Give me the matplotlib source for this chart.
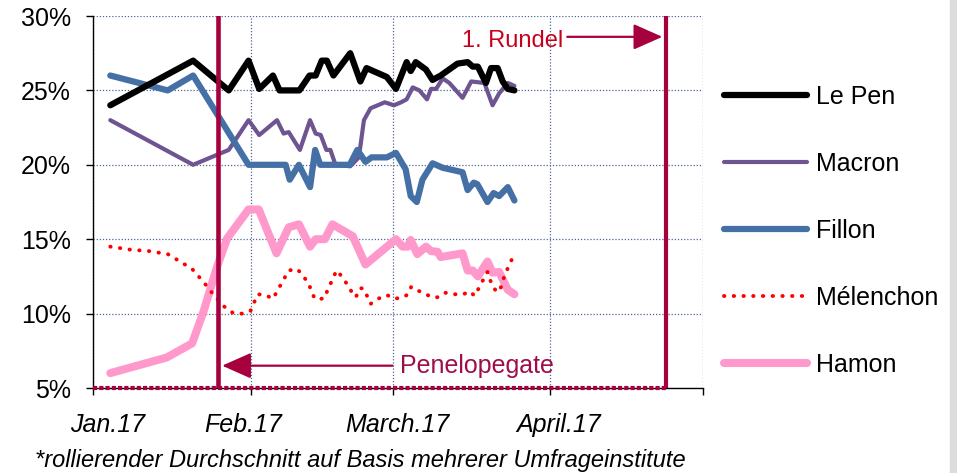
import matplotlib
matplotlib.use('Agg')
import matplotlib.pyplot as plt
from matplotlib.patches import Rectangle

# Schrift wie im Original (Arial-ähnlich)
plt.rcParams['font.family'] = ['Liberation Sans', 'DejaVu Sans']

# x-Achse: Tage ab 1. Januar 2017
month_starts = [0, 31, 59, 90, 120]
month_labels = ['Jan.17', 'Feb.17', 'March.17', 'April.17']
month_label_pos = [2.8, 29.6, 59.8, 91.5]
y_ticks = [5, 10, 15, 20, 25, 30]

penelopegate_day = 24.6
first_round_day = 112.8

# Umfragewerte in %
lepen_x = [3.4, 19.7, 26.7, 30.6, 32.7, 35.4, 36.7, 40.6, 42.6, 43.8, 45.0, 46.0,
           47.3, 50.6, 52.6, 53.8, 57.8, 59.6, 61.7, 62.5, 63.5, 65.5, 66.8, 68.4,
           71.7, 73.7, 74.7, 75.7, 77.3, 78.3, 79.6, 80.6, 81.6, 82.9]
lepen_y = [24.0, 27.0, 25.0, 27.0, 25.1, 26.0, 25.0, 25.0, 26.0, 26.0, 27.0, 27.0,
           26.0, 27.5, 25.6, 26.5, 25.9, 25.1, 26.9, 26.3, 26.9, 26.4, 25.7, 26.0,
           26.8, 26.9, 26.6, 26.6, 25.5, 26.5, 26.5, 25.6, 25.1, 25.0]

macron_x = [3.4, 19.7, 26.7, 30.6, 32.7, 36.2, 37.5, 38.5, 40.7, 42.7, 43.8, 44.8,
            45.9, 46.7, 47.7, 50.6, 52.3, 53.3, 54.6, 57.4, 59.2, 60.6, 61.7, 62.9,
            64.2, 65.7, 66.5, 67.5, 68.8, 70.1, 72.7, 74.4, 77.0, 78.6, 79.9, 81.6, 82.9]
macron_y = [23.0, 20.0, 21.0, 23.0, 22.0, 23.0, 22.1, 22.2, 21.0, 23.0, 22.1, 22.0,
            21.0, 21.0, 20.0, 19.9, 20.5, 23.0, 23.8, 24.2, 24.0, 24.2, 24.4, 25.2,
            25.0, 24.4, 25.1, 25.1, 25.8, 25.5, 24.5, 25.6, 25.5, 24.0, 24.8, 25.5, 25.3]

fillon_x = [3.4, 14.7, 19.7, 30.6, 37.9, 38.7, 40.5, 42.7, 43.7, 44.7, 50.5, 52.0,
            53.6, 54.8, 57.8, 59.6, 61.5, 62.5, 63.7, 64.8, 66.8, 68.8, 72.7, 73.7,
            74.9, 75.6, 77.6, 78.8, 79.9, 81.6, 82.9]
fillon_y = [26.0, 25.0, 26.0, 20.0, 20.0, 19.0, 20.0, 18.5, 21.0, 20.0, 20.0, 21.0,
            20.2, 20.5, 20.5, 20.8, 19.7, 17.9, 17.5, 19.0, 20.1, 19.8, 19.5, 18.3,
            18.8, 18.7, 17.5, 18.1, 17.9, 18.5, 17.6]

melenchon_x = [3.4, 7.3, 11.0, 14.7, 16.4, 19.5, 21.8, 24.1, 25.7, 27.7, 29.6, 31.0,
               32.4, 33.9, 35.4, 38.5, 40.2, 42.3, 43.6, 45.4, 47.9, 49.2, 51.0, 51.7,
               52.5, 53.1, 53.9, 54.6, 56.1, 57.8, 59.4, 61.0, 62.0, 62.6, 63.5, 65.0,
               66.6, 67.9, 69.3, 71.1, 72.9, 74.0, 75.1, 76.8, 77.6, 78.4, 79.3, 80.0,
               81.0, 82.4]
melenchon_y = [14.5, 14.3, 14.2, 14.0, 13.65, 13.0, 12.1, 11.1, 10.5, 10.0, 10.0, 10.2,
               11.3, 11.25, 11.0, 12.9, 13.0, 12.1, 11.0, 11.0, 12.9, 12.4, 11.4, 11.1,
               11.7, 11.7, 11.2, 10.65, 11.0, 11.25, 11.0, 11.1, 11.3, 11.8, 11.6, 11.4,
               11.1, 11.1, 11.4, 11.3, 11.3, 11.5, 11.2, 12.3, 12.8, 12.0, 11.5, 11.5,
               12.6, 13.65]

hamon_x = [3.4, 14.5, 19.5, 21.8, 24.4, 26.4, 30.6, 32.6, 36.1, 38.5, 40.5, 42.7,
           43.8, 45.6, 47.1, 51.1, 53.6, 59.6, 60.9, 61.9, 62.5, 63.8, 65.5, 66.5,
           67.8, 68.4, 72.7, 73.7, 74.7, 75.7, 77.6, 78.6, 79.9, 81.6, 82.9]
hamon_y = [6.0, 7.05, 8.0, 10.2, 13.15, 15.06, 17.0, 17.0, 14.05, 15.8, 16.0, 14.5,
           15.0, 15.0, 16.0, 15.2, 13.3, 15.0, 14.5, 14.5, 14.95, 14.0, 14.5, 14.2,
           14.15, 13.8, 14.05, 12.9, 12.9, 12.5, 13.5, 12.75, 12.8, 11.6, 11.3]

MAROON = '#A6003F'
GRID = '#4F6594'

fig = plt.figure(figsize=(9.57, 4.73), dpi=100)
ax = fig.add_axes([93 / 957, 1 - 388 / 473, 610 / 957, 372 / 473])

line_kw = dict(solid_capstyle='round', solid_joinstyle='round')
ax.plot(lepen_x, lepen_y, color='black', lw=4.5, label='Le Pen', zorder=6, **line_kw)
ax.plot(macron_x, macron_y, color='#6E5490', lw=3.0, label='Macron', zorder=4, **line_kw)
ax.plot(fillon_x, fillon_y, color='#4470A6', lw=4.5, label='Fillon', zorder=5, **line_kw)
ax.plot(melenchon_x, melenchon_y, color='#FF0000', lw=2.8, ls=(0, (0.1, 2.4)),
        dash_capstyle='round', label='Mélenchon', zorder=3)
ax.plot(hamon_x, hamon_y, color='#FF99CC', lw=5.8, label='Hamon', zorder=2, **line_kw)

# Ereignislinien
ax.axvline(penelopegate_day, color=MAROON, lw=3.3, zorder=7)
ax.axvline(first_round_day, color=MAROON, lw=3.0, zorder=7)
ax.plot([0, first_round_day], [5, 5], color=MAROON, lw=3.0, ls=(0, (1.0, 0.5)),
        clip_on=False, zorder=8)

ax.annotate('', xy=(112.0, 28.6), xytext=(93.3, 28.6),
            arrowprops=dict(arrowstyle='-|>,head_length=0.9,head_width=0.4',
                            color=MAROON, lw=1.6, shrinkA=0, shrinkB=0,
                            mutation_scale=20))
ax.text(72.5, 27.94, '1. Rundel', color='#C8001E', fontsize=17, va='baseline')

ax.annotate('', xy=(25.4, 6.5), xytext=(58.9, 6.5),
            arrowprops=dict(arrowstyle='-|>,head_length=0.9,head_width=0.4',
                            color=MAROON, lw=1.6, shrinkA=0, shrinkB=0,
                            mutation_scale=20))
ax.text(60.4, 6.03, 'Penelopegate', color='#9E0E4A', fontsize=18, va='baseline')

# Achsen
ax.set_xlim(0, 120)
ax.set_ylim(5, 30)
ax.set_yticks(y_ticks)
ax.set_yticklabels([f'{v}%' for v in y_ticks], fontsize=18)
ax.set_xticks(month_starts)
ax.set_xticklabels([])
ax.set_xticks(month_label_pos, minor=True)
ax.set_xticklabels(month_labels, minor=True, fontsize=18, style='italic')
ax.tick_params(axis='x', which='minor', length=0, pad=18)
ax.tick_params(axis='x', which='major', length=5, width=1, direction='out')
ax.tick_params(axis='y', length=5, width=1, direction='out', pad=11)

ax.grid(True, which='major', color=GRID, lw=0.9, ls=(0, (1, 1.5)))
for side in ['top', 'right']:
    ax.spines[side].set_visible(False)
ax.spines['left'].set_linewidth(1)
ax.spines['bottom'].set_linewidth(1)

ax.legend(loc='center left', bbox_to_anchor=(724 / 957, 1 - 230.5 / 473),
          bbox_transform=fig.transFigure, frameon=False, fontsize=18,
          borderpad=0, borderaxespad=0, handlelength=3.3, handletextpad=0.4,
          labelspacing=1.72)

fig.text(35 / 957, 1 - 467 / 473, '*rollierender Durchschnitt auf Basis mehrerer Umfrageinstitute',
         fontsize=17, style='italic', va='baseline')

# rechter Bildrand wie im Original
fig.add_artist(Rectangle((938 / 957, 0), 12 / 957, 1, transform=fig.transFigure,
                         color='white', zorder=10))
fig.add_artist(Rectangle((950 / 957, 0), 7 / 957, 1, transform=fig.transFigure,
                         color='#DCDCDC', zorder=10))

fig.savefig('out.png', dpi=100)
